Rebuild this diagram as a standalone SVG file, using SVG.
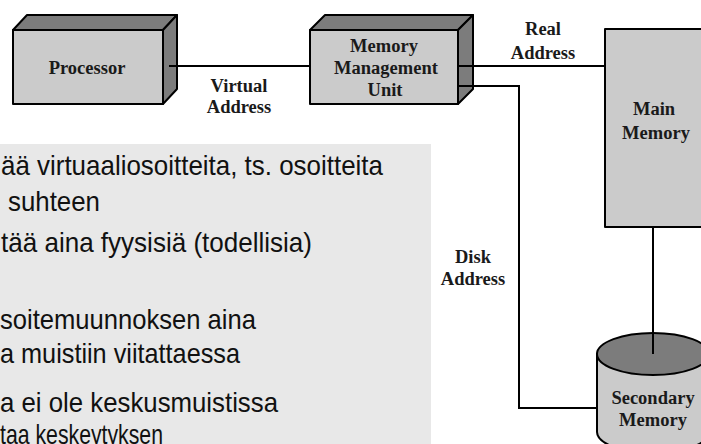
<svg xmlns="http://www.w3.org/2000/svg" width="701" height="444" viewBox="0 0 701 444">
  <style>
    .face { fill: #cbcbcb; stroke: #000; stroke-width: 2; stroke-linejoin: round; }
    .shade { fill: #7c7c7c; stroke: #000; stroke-width: 2; stroke-linejoin: round; }
    .wire { fill: none; stroke: #000; stroke-width: 2; }
    .lbl { font-family: "Liberation Serif", "Times New Roman", serif; font-weight: bold; font-size: 18.5px; fill: #1a1a1a; text-anchor: middle; }
    .note { font-family: "Liberation Sans Narrow", "Liberation Sans", Arial, sans-serif; font-size: 28px; fill: #111; }
  </style>

  <rect x="0" y="0" width="701" height="444" fill="#ffffff"/>

  <!-- slide text panel -->
  <g id="panel">
    <rect x="0" y="144" width="431" height="300" fill="#e8e8e8"/>
    <text class="note" x="1" y="175" textLength="382" lengthAdjust="spacingAndGlyphs">ää virtuaaliosoitteita, ts. osoitteita</text>
    <text class="note" x="8" y="211" textLength="92" lengthAdjust="spacingAndGlyphs">suhteen</text>
    <text class="note" x="1" y="252" textLength="311" lengthAdjust="spacingAndGlyphs">tää aina fyysisiä (todellisia)</text>
    <text class="note" x="0" y="329" textLength="256" lengthAdjust="spacingAndGlyphs">soitemuunnoksen aina</text>
    <text class="note" x="0" y="363" textLength="240" lengthAdjust="spacingAndGlyphs">a muistiin viitattaessa</text>
    <text class="note" x="0" y="412" textLength="278" lengthAdjust="spacingAndGlyphs">a ei ole keskusmuistissa</text>
    <text class="note" x="0" y="444" font-size="21" textLength="163" lengthAdjust="spacingAndGlyphs">taa keskeytyksen</text>
  </g>

  <!-- connectors -->
  <g id="connectors">
    <line class="wire" x1="169" y1="66" x2="310" y2="66"/>
    <line class="wire" x1="465" y1="66" x2="605" y2="66"/>
    <polyline class="wire" points="465,86 519,86 519,408 597,408"/>
    <line class="wire" x1="653" y1="227" x2="653" y2="353"/>
    <text class="lbl" x="239" y="92">Virtual</text>
    <text class="lbl" x="239" y="113">Address</text>
    <text class="lbl" x="543" y="35">Real</text>
    <text class="lbl" x="543" y="59">Address</text>
    <text class="lbl" x="473" y="263">Disk</text>
    <text class="lbl" x="473" y="285">Address</text>
  </g>

  <g id="processor">
    <polygon class="shade" points="13,30 27,15 177,15 163,30"/>
    <polygon class="shade" points="163,30 177,15 177,89 163,104"/>
    <rect class="face" x="13" y="30" width="150" height="74"/>
    <line class="wire" x1="169" y1="66" x2="177" y2="66"/>
    <text class="lbl" x="87" y="74">Processor</text>
  </g>

  <g id="mmu">
    <polygon class="shade" points="310,30 325,15 473,15 458,30"/>
    <polygon class="shade" points="458,30 473,15 473,89 458,104"/>
    <rect class="face" x="310" y="30" width="148" height="74"/>
    <line class="wire" x1="458" y1="66" x2="473" y2="66"/>
    <line class="wire" x1="458" y1="86" x2="473" y2="86"/>
    <text class="lbl" x="384" y="52">Memory</text>
    <text class="lbl" x="386" y="74">Management</text>
    <text class="lbl" x="385" y="96">Unit</text>
  </g>

  <g id="main-memory">
    <rect class="face" x="605" y="29" width="120" height="198"/>
    <text class="lbl" x="654" y="115">Main</text>
    <text class="lbl" x="656" y="139">Memory</text>
  </g>

  <g id="secondary-memory">
    <path class="face" d="M597,354 L597,432 A56,21 0 0 0 709,432 L709,354 Z"/>
    <ellipse class="shade" cx="653" cy="354" rx="56" ry="21"/>
    <line class="wire" x1="653" y1="333" x2="653" y2="354"/>
    <text class="lbl" x="653" y="404">Secondary</text>
    <text class="lbl" x="653" y="426">Memory</text>
  </g>
</svg>
